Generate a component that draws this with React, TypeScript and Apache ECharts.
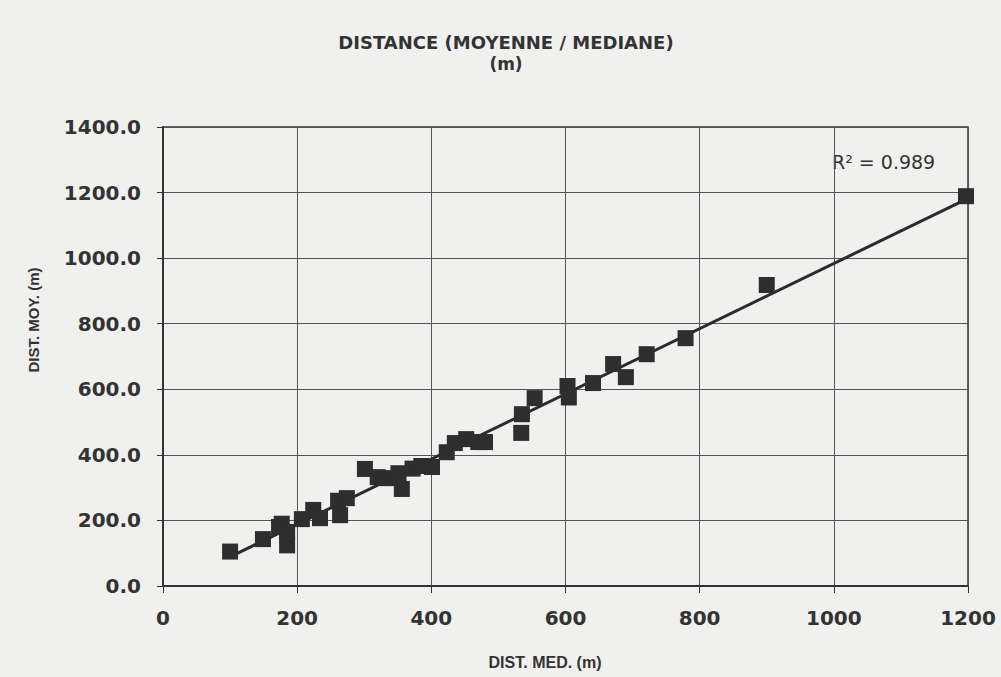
import React, { useEffect, useRef } from "react";
import * as echarts from "echarts";

const distMed = [100, 149, 173, 177, 185, 185, 207, 224, 234, 261, 264, 274, 301, 320, 334, 351, 356, 372, 385, 401, 423, 435, 452, 470, 480, 534, 535, 554, 603, 605, 641, 671, 690, 721, 779, 900, 1197];
const distMoy = [105, 143, 180, 190, 165, 124, 204, 232, 207, 260, 216, 268, 357, 332, 329, 344, 296, 358, 366, 363, 408, 436, 448, 439, 439, 467, 524, 573, 610, 575, 619, 677, 637, 707, 756, 918, 1189];
const xTicks = [0, 200, 400, 600, 800, 1000, 1200];
const yTicks = [0, 200, 400, 600, 800, 1000, 1200, 1400];
const rSquared = "0.989";

function regression(xs: number[], ys: number[]) {
  const n = xs.length;
  const mx = xs.reduce((a, b) => a + b, 0) / n;
  const my = ys.reduce((a, b) => a + b, 0) / n;
  let sxy = 0, sxx = 0;
  for (let i = 0; i < n; i++) {
    sxy += (xs[i] - mx) * (ys[i] - my);
    sxx += (xs[i] - mx) * (xs[i] - mx);
  }
  const b = sxy / sxx;
  return { a: my - b * mx, b };
}

export default function App() {
  const ref = useRef<HTMLDivElement>(null);
  useEffect(() => {
    document.body.style.margin = "0";
    const chart = echarts.init(ref.current!, null, { renderer: "svg" });
    const { a, b } = regression(distMed, distMoy);
    const xmin = Math.min(...distMed);
    const xmax = Math.max(...distMed);
    const font = '"Liberation Sans", Arial, sans-serif';
    const wide = '"DejaVu Sans", Verdana, sans-serif';
    const ink = "#333";
    chart.setOption({
      animation: false,
      backgroundColor: "#f0f0ee",
      grid: {
        left: 163, top: 127, width: 805, height: 459,
        show: true, borderColor: ink, borderWidth: 1.5, backgroundColor: "transparent",
      },
      xAxis: {
        type: "value", min: xTicks[0], max: xTicks[xTicks.length - 1], interval: 200,
        axisLine: { show: true, lineStyle: { color: ink, width: 2 } },
        axisTick: { show: true, length: 7, lineStyle: { color: ink } },
        splitLine: { show: true, lineStyle: { color: "#555", width: 1 } },
        axisLabel: {
          color: ink, fontFamily: wide, fontWeight: "bold", fontSize: 20, margin: 22,
          formatter: (v: number) => String(v),
        },
      },
      yAxis: {
        type: "value", min: yTicks[0], max: yTicks[yTicks.length - 1], interval: 200,
        axisLine: { show: true, lineStyle: { color: ink, width: 2 } },
        axisTick: { show: true, length: 6, lineStyle: { color: ink } },
        splitLine: { show: true, lineStyle: { color: "#555", width: 1 } },
        axisLabel: {
          color: ink, fontFamily: wide, fontWeight: "bold", fontSize: 20, margin: 22,
          formatter: (v: number) => v.toFixed(1),
        },
      },
      series: [
        {
          type: "line",
          data: [[xmin, a + b * xmin], [xmax, a + b * xmax]],
          showSymbol: false, symbol: "none",
          lineStyle: { color: "#2b2b2b", width: 3 },
          z: 3,
        },
        {
          type: "scatter",
          data: distMed.map((x, i) => [x, distMoy[i]]),
          symbol: "rect", symbolSize: 16,
          itemStyle: { color: "#2e2e2e", opacity: 1 },
          z: 4,
        },
      ],
      graphic: [
        { type: "text", x: 506, y: 42, style: { text: "DISTANCE (MOYENNE / MEDIANE)", font: `bold 18px ${wide}`, fill: ink, align: "center", verticalAlign: "middle" } },
        { type: "text", x: 506, y: 64, style: { text: "(m)", font: `bold 17px ${wide}`, fill: ink, align: "center", verticalAlign: "middle" } },
        { type: "text", x: 545, y: 662, style: { text: "DIST. MED. (m)", font: `bold 16px ${font}`, fill: ink, align: "center", verticalAlign: "middle" } },
        { type: "text", x: 33, y: 320, rotation: Math.PI / 2, style: { text: "DIST. MOY. (m)", font: `bold 15px ${font}`, fill: ink, align: "center", verticalAlign: "middle" } },
        { type: "text", x: 832, y: 162, style: { text: `R² = ${rSquared}`, font: `19px ${wide}`, fill: ink, align: "left", verticalAlign: "middle" } },
      ],
    });
    return () => chart.dispose();
  }, []);
  return <div ref={ref} style={{ width: 1001, height: 677 }} />;
}
